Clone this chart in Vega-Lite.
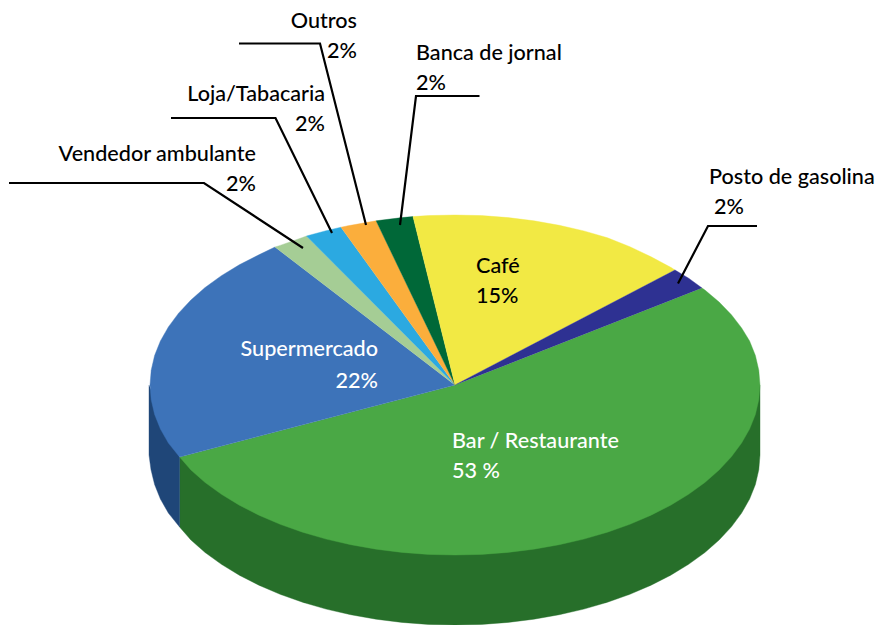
{
"$schema":"https://vega.github.io/schema/vega-lite/v6.json",
"width":877,"height":625,"padding":0,
"autosize":"none",
"background":"white",
"view":{"stroke":null},
"datasets":{
"sides":[
{"slice":"Bar / Restaurante","i":0,"x":760,"y":385},{"slice":"Bar / Restaurante","i":1,"x":760,"y":455},{"slice":"Bar / Restaurante","i":2,"x":758.8,"y":469.8},{"slice":"Bar / Restaurante","i":3,"x":755.4,"y":484.5},{"slice":"Bar / Restaurante","i":4,"x":749.6,"y":499},{"slice":"Bar / Restaurante","i":5,"x":741.6,"y":513.1},{"slice":"Bar / Restaurante","i":6,"x":731.4,"y":526.8},{"slice":"Bar / Restaurante","i":7,"x":719.1,"y":540},{"slice":"Bar / Restaurante","i":8,"x":704.9,"y":552.5},{"slice":"Bar / Restaurante","i":9,"x":688.6,"y":564.3},{"slice":"Bar / Restaurante","i":10,"x":670.7,"y":575.2},{"slice":"Bar / Restaurante","i":11,"x":651.1,"y":585.2},{"slice":"Bar / Restaurante","i":12,"x":629.9,"y":594.3},{"slice":"Bar / Restaurante","i":13,"x":607.5,"y":602.2},{"slice":"Bar / Restaurante","i":14,"x":583.9,"y":609.1},{"slice":"Bar / Restaurante","i":15,"x":559.3,"y":614.7},{"slice":"Bar / Restaurante","i":16,"x":533.9,"y":619.2},{"slice":"Bar / Restaurante","i":17,"x":508,"y":622.4},{"slice":"Bar / Restaurante","i":18,"x":481.6,"y":624.4},{"slice":"Bar / Restaurante","i":19,"x":455,"y":625},{"slice":"Bar / Restaurante","i":20,"x":428.4,"y":624.4},{"slice":"Bar / Restaurante","i":21,"x":402,"y":622.4},{"slice":"Bar / Restaurante","i":22,"x":376.1,"y":619.2},{"slice":"Bar / Restaurante","i":23,"x":350.7,"y":614.7},{"slice":"Bar / Restaurante","i":24,"x":326.1,"y":609.1},{"slice":"Bar / Restaurante","i":25,"x":302.5,"y":602.2},{"slice":"Bar / Restaurante","i":26,"x":280.1,"y":594.3},{"slice":"Bar / Restaurante","i":27,"x":258.9,"y":585.2},{"slice":"Bar / Restaurante","i":28,"x":239.3,"y":575.2},{"slice":"Bar / Restaurante","i":29,"x":221.4,"y":564.3},{"slice":"Bar / Restaurante","i":30,"x":205.1,"y":552.5},{"slice":"Bar / Restaurante","i":31,"x":190.9,"y":540},{"slice":"Bar / Restaurante","i":32,"x":179.6,"y":527},{"slice":"Bar / Restaurante","i":33,"x":179.6,"y":457},
{"slice":"Supermercado","i":0,"x":179.6,"y":457},{"slice":"Supermercado","i":1,"x":179.6,"y":527},{"slice":"Supermercado","i":2,"x":168.4,"y":513.1},{"slice":"Supermercado","i":3,"x":160.4,"y":499},{"slice":"Supermercado","i":4,"x":154.6,"y":484.5},{"slice":"Supermercado","i":5,"x":151,"y":469.8},{"slice":"Supermercado","i":6,"x":149,"y":455},{"slice":"Supermercado","i":7,"x":149,"y":385}
],
"tops":[
{"slice":"Bar / Restaurante","i":0,"x":455,"y":385},{"slice":"Bar / Restaurante","i":1,"x":702,"y":288},{"slice":"Bar / Restaurante","i":2,"x":704.9,"y":290},{"slice":"Bar / Restaurante","i":3,"x":719.1,"y":302},{"slice":"Bar / Restaurante","i":4,"x":731.4,"y":314.7},{"slice":"Bar / Restaurante","i":5,"x":741.6,"y":327.9},{"slice":"Bar / Restaurante","i":6,"x":749.6,"y":341},{"slice":"Bar / Restaurante","i":7,"x":755.4,"y":355.5},{"slice":"Bar / Restaurante","i":8,"x":758.8,"y":370.2},{"slice":"Bar / Restaurante","i":9,"x":760,"y":385},{"slice":"Bar / Restaurante","i":10,"x":758.8,"y":399.8},{"slice":"Bar / Restaurante","i":11,"x":755.4,"y":414.5},{"slice":"Bar / Restaurante","i":12,"x":749.6,"y":429},{"slice":"Bar / Restaurante","i":13,"x":741.6,"y":443.1},{"slice":"Bar / Restaurante","i":14,"x":731.4,"y":456.8},{"slice":"Bar / Restaurante","i":15,"x":719.1,"y":470},{"slice":"Bar / Restaurante","i":16,"x":704.9,"y":482.5},{"slice":"Bar / Restaurante","i":17,"x":688.6,"y":494.3},{"slice":"Bar / Restaurante","i":18,"x":670.7,"y":505.2},{"slice":"Bar / Restaurante","i":19,"x":651.1,"y":515.2},{"slice":"Bar / Restaurante","i":20,"x":629.9,"y":524.3},{"slice":"Bar / Restaurante","i":21,"x":607.5,"y":532.2},{"slice":"Bar / Restaurante","i":22,"x":583.9,"y":539.1},{"slice":"Bar / Restaurante","i":23,"x":559.3,"y":544.7},{"slice":"Bar / Restaurante","i":24,"x":533.9,"y":549.2},{"slice":"Bar / Restaurante","i":25,"x":508,"y":552.4},{"slice":"Bar / Restaurante","i":26,"x":481.6,"y":554.4},{"slice":"Bar / Restaurante","i":27,"x":455,"y":555},{"slice":"Bar / Restaurante","i":28,"x":428.4,"y":554.4},{"slice":"Bar / Restaurante","i":29,"x":402,"y":552.4},{"slice":"Bar / Restaurante","i":30,"x":376.1,"y":549.2},{"slice":"Bar / Restaurante","i":31,"x":350.7,"y":544.7},{"slice":"Bar / Restaurante","i":32,"x":326.1,"y":539.1},{"slice":"Bar / Restaurante","i":33,"x":302.5,"y":532.2},{"slice":"Bar / Restaurante","i":34,"x":280.1,"y":524.3},{"slice":"Bar / Restaurante","i":35,"x":258.9,"y":515.2},{"slice":"Bar / Restaurante","i":36,"x":239.3,"y":505.2},{"slice":"Bar / Restaurante","i":37,"x":221.4,"y":494.3},{"slice":"Bar / Restaurante","i":38,"x":205.1,"y":482.5},{"slice":"Bar / Restaurante","i":39,"x":190.9,"y":470},{"slice":"Bar / Restaurante","i":40,"x":179.6,"y":457},
{"slice":"Supermercado","i":0,"x":455,"y":385},{"slice":"Supermercado","i":1,"x":179.6,"y":457},{"slice":"Supermercado","i":2,"x":168.4,"y":443.1},{"slice":"Supermercado","i":3,"x":160.4,"y":429},{"slice":"Supermercado","i":4,"x":154.6,"y":414.5},{"slice":"Supermercado","i":5,"x":151.2,"y":399.8},{"slice":"Supermercado","i":6,"x":150,"y":385},{"slice":"Supermercado","i":7,"x":151.2,"y":370.2},{"slice":"Supermercado","i":8,"x":154.6,"y":355.5},{"slice":"Supermercado","i":9,"x":160.4,"y":341},{"slice":"Supermercado","i":10,"x":168.4,"y":326.9},{"slice":"Supermercado","i":11,"x":178.6,"y":313.2},{"slice":"Supermercado","i":12,"x":190.9,"y":300},{"slice":"Supermercado","i":13,"x":205.1,"y":287.5},{"slice":"Supermercado","i":14,"x":221.4,"y":275.7},{"slice":"Supermercado","i":15,"x":239.3,"y":264.8},{"slice":"Supermercado","i":16,"x":258.9,"y":254.8},{"slice":"Supermercado","i":17,"x":275,"y":247},
{"slice":"Vendedor ambulante","i":0,"x":455,"y":385},{"slice":"Vendedor ambulante","i":1,"x":275,"y":247},{"slice":"Vendedor ambulante","i":2,"x":280.1,"y":245.4},{"slice":"Vendedor ambulante","i":3,"x":302.5,"y":237.5},{"slice":"Vendedor ambulante","i":4,"x":306.5,"y":236},
{"slice":"Loja/Tabacaria","i":0,"x":455,"y":385},{"slice":"Loja/Tabacaria","i":1,"x":306.5,"y":236},{"slice":"Loja/Tabacaria","i":2,"x":326.1,"y":230.7},{"slice":"Loja/Tabacaria","i":3,"x":341,"y":227.2},
{"slice":"Outros","i":0,"x":455,"y":385},{"slice":"Outros","i":1,"x":341,"y":227.2},{"slice":"Outros","i":2,"x":350.7,"y":225.3},{"slice":"Outros","i":3,"x":376.1,"y":220.8},
{"slice":"Banca de jornal","i":0,"x":455,"y":385},{"slice":"Banca de jornal","i":1,"x":376.1,"y":220.8},{"slice":"Banca de jornal","i":2,"x":402,"y":217.6},{"slice":"Banca de jornal","i":3,"x":413,"y":216.6},
{"slice":"Café","i":0,"x":455,"y":385},{"slice":"Café","i":1,"x":413,"y":216.6},{"slice":"Café","i":2,"x":428.4,"y":215.6},{"slice":"Café","i":3,"x":455,"y":215},{"slice":"Café","i":4,"x":481.6,"y":215.6},{"slice":"Café","i":5,"x":508,"y":217.6},{"slice":"Café","i":6,"x":533.9,"y":220.8},{"slice":"Café","i":7,"x":559.3,"y":225.3},{"slice":"Café","i":8,"x":583.9,"y":230.9},{"slice":"Café","i":9,"x":607.5,"y":237.8},{"slice":"Café","i":10,"x":629.9,"y":246.7},{"slice":"Café","i":11,"x":651.1,"y":256.8},{"slice":"Café","i":12,"x":670.7,"y":267.3},{"slice":"Café","i":13,"x":675,"y":270},
{"slice":"Posto de gasolina","i":0,"x":455,"y":385},{"slice":"Posto de gasolina","i":1,"x":675,"y":270},{"slice":"Posto de gasolina","i":2,"x":688.6,"y":278.2},{"slice":"Posto de gasolina","i":3,"x":702,"y":288}
],
"leaders":[
{"slice":"Outros","i":0,"x":239,"y":43.5},{"slice":"Outros","i":1,"x":320,"y":43.5},{"slice":"Outros","i":2,"x":366,"y":225},
{"slice":"Loja/Tabacaria","i":0,"x":171,"y":118},{"slice":"Loja/Tabacaria","i":1,"x":275.5,"y":118},{"slice":"Loja/Tabacaria","i":2,"x":332,"y":233},
{"slice":"Vendedor ambulante","i":0,"x":9,"y":183},{"slice":"Vendedor ambulante","i":1,"x":204,"y":183},{"slice":"Vendedor ambulante","i":2,"x":303,"y":248},
{"slice":"Banca de jornal","i":0,"x":479.5,"y":96},{"slice":"Banca de jornal","i":1,"x":416,"y":96},{"slice":"Banca de jornal","i":2,"x":400,"y":225},
{"slice":"Posto de gasolina","i":0,"x":757,"y":226},{"slice":"Posto de gasolina","i":1,"x":708,"y":226},{"slice":"Posto de gasolina","i":2,"x":678,"y":283.5}
],
"labelsRight":[
{"t":"Outros","x":357,"y":28,"c":"k"},{"t":"2%","x":357,"y":58,"c":"k"},
{"t":"Loja/Tabacaria","x":325,"y":101,"c":"k"},{"t":"2%","x":325,"y":131,"c":"k"},
{"t":"Vendedor ambulante","x":256,"y":161,"c":"k"},{"t":"2%","x":256,"y":191,"c":"k"},
{"t":"Supermercado","x":378,"y":356,"c":"w"},{"t":"22%","x":378,"y":388,"c":"w"}
],
"labelsLeft":[
{"t":"Banca de jornal","x":416,"y":60,"c":"k"},{"t":"2%","x":416,"y":90,"c":"k"},
{"t":"Posto de gasolina","x":709,"y":184,"c":"k"},{"t":"2%","x":714,"y":214,"c":"k"},
{"t":"Café","x":476,"y":273,"c":"k"},{"t":"15%","x":476,"y":303,"c":"k"},
{"t":"Bar / Restaurante","x":452,"y":448,"c":"w"},{"t":"53 %","x":452,"y":478,"c":"w"}
]
},
"layer":[
{"data":{"name":"sides"},"mark":{"type":"line","strokeWidth":0.4,"interpolate":"linear"},
 "encoding":{"x":{"field":"x","type":"quantitative","scale":{"domain":[0,877],"nice":false,"zero":false},"axis":null},
  "y":{"field":"y","type":"quantitative","scale":{"domain":[625,0],"nice":false,"zero":false},"axis":null},
  "order":{"field":"i","type":"quantitative"},
  "detail":{"field":"slice"},
  "fill":{"field":"slice","type":"nominal","legend":null,"scale":{"domain":["Bar / Restaurante","Supermercado"],"range":["#276F2A","#1F4678"]}},
  "stroke":{"field":"slice","type":"nominal","legend":null,"scale":{"domain":["Bar / Restaurante","Supermercado"],"range":["#276F2A","#1F4678"]}}}},
{"data":{"name":"tops"},"mark":{"type":"line","strokeWidth":0.4,"interpolate":"linear"},
 "encoding":{"x":{"field":"x","type":"quantitative","scale":{"domain":[0,877],"nice":false,"zero":false},"axis":null},
  "y":{"field":"y","type":"quantitative","scale":{"domain":[625,0],"nice":false,"zero":false},"axis":null},
  "order":{"field":"i","type":"quantitative"},
  "detail":{"field":"slice"},
  "fill":{"field":"slice","type":"nominal","legend":null,"scale":{"domain":["Bar / Restaurante","Supermercado","Vendedor ambulante","Loja/Tabacaria","Outros","Banca de jornal","Café","Posto de gasolina"],"range":["#4AA845","#3D73B9","#A5CD95","#2BA9E1","#FBAE3C","#006838","#F2E944","#2E3192"]}},
  "stroke":{"field":"slice","type":"nominal","legend":null,"scale":{"domain":["Bar / Restaurante","Supermercado","Vendedor ambulante","Loja/Tabacaria","Outros","Banca de jornal","Café","Posto de gasolina"],"range":["#4AA845","#3D73B9","#A5CD95","#2BA9E1","#FBAE3C","#006838","#F2E944","#2E3192"]}}}},
{"data":{"name":"leaders"},"mark":{"type":"line","color":"black","strokeWidth":2.2,"strokeJoin":"miter"},
 "encoding":{"x":{"field":"x","type":"quantitative","scale":{"domain":[0,877],"nice":false,"zero":false},"axis":null},
  "y":{"field":"y","type":"quantitative","scale":{"domain":[625,0],"nice":false,"zero":false},"axis":null},
  "order":{"field":"i","type":"quantitative"},"detail":{"field":"slice"}}},
{"data":{"name":"labelsRight"},"mark":{"type":"text","align":"right","baseline":"alphabetic","font":"Lato","fontSize":21.6,"fontWeight":500},
 "encoding":{"x":{"field":"x","type":"quantitative","scale":{"domain":[0,877],"nice":false,"zero":false},"axis":null},
  "y":{"field":"y","type":"quantitative","scale":{"domain":[625,0],"nice":false,"zero":false},"axis":null},
  "text":{"field":"t"},
  "color":{"field":"c","type":"nominal","legend":null,"scale":{"domain":["k","w"],"range":["#000000","#FFFFFF"]}}}},
{"data":{"name":"labelsLeft"},"mark":{"type":"text","align":"left","baseline":"alphabetic","font":"Lato","fontSize":21.6,"fontWeight":500},
 "encoding":{"x":{"field":"x","type":"quantitative","scale":{"domain":[0,877],"nice":false,"zero":false},"axis":null},
  "y":{"field":"y","type":"quantitative","scale":{"domain":[625,0],"nice":false,"zero":false},"axis":null},
  "text":{"field":"t"},
  "color":{"field":"c","type":"nominal","legend":null,"scale":{"domain":["k","w"],"range":["#000000","#FFFFFF"]}}}}
],
"resolve":{"scale":{"color":"independent","fill":"independent","stroke":"independent"}}
}
